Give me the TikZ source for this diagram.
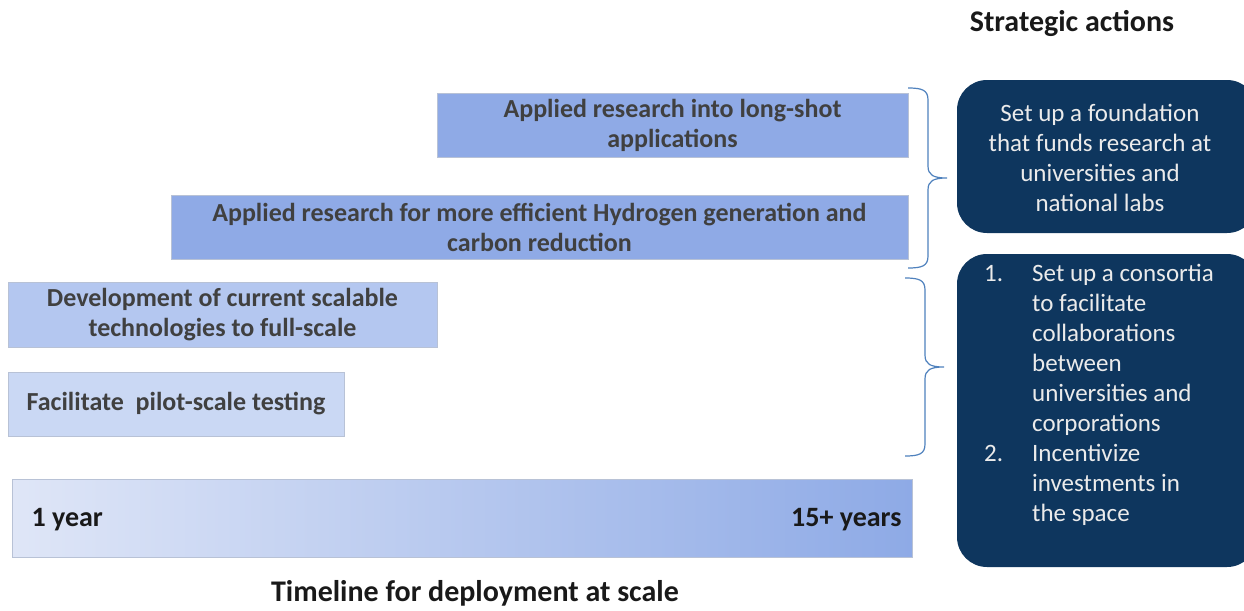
\documentclass[tikz,border=0pt]{standalone}
\usepackage{fontspec}
\setmainfont{Carlito}
\definecolor{barA}{HTML}{8FAAE6}
\definecolor{barC}{HTML}{B4C7F0}
\definecolor{barD}{HTML}{CAD8F4}
\definecolor{tlL}{HTML}{DFE6F7}
\definecolor{tlR}{HTML}{8EAAE6}
\definecolor{navy}{HTML}{0E365E}
\definecolor{brc}{HTML}{4F81BD}
\definecolor{txt}{HTML}{404040}
\definecolor{edge}{HTML}{B8C2D6}
\begin{document}
\begin{tikzpicture}[x=1pt,y=-1pt,
  bar/.style={draw=edge,line width=0.8pt,inner sep=0pt,align=center,text=txt,
    font=\fontsize{26}{30}\selectfont\bfseries},
  act/.style={fill=navy,rounded corners=30pt,inner sep=0pt},
  acttext/.style={text=white!92!black,font=\fontsize{25}{30}\selectfont},
  brace/.style={draw=brc,line width=1.2pt},
  yr/.style={text=black!90,font=\fontsize{28}{32}\selectfont\bfseries},
  head/.style={font=\fontsize{30}{34}\selectfont\bfseries,text=black!90}]
\useasboundingbox (0,0) rectangle (1244,610);
% bars
\node[bar,fill=barA,minimum width=471pt,minimum height=64pt] (a) at (672.5,125) {Applied research into long-shot\\applications};
\node[bar,fill=barA,minimum width=737pt,minimum height=64pt] (b) at (539.5,227) {Applied research for more efficient Hydrogen generation and\\carbon reduction};
\node[bar,fill=barC,minimum width=429pt,minimum height=65pt] (c) at (222.5,314.5) {Development of current scalable\\technologies to full-scale};
\node[bar,fill=barD,minimum width=336pt,minimum height=64pt] (d) at (176,404) {Facilitate\ \ pilot-scale testing};
% timeline
\node[draw=edge,line width=0.8pt,left color=tlL,right color=tlR,minimum width=900pt,minimum height=78pt,inner sep=0pt] (tl) at (462,518) {};
\node[yr,anchor=west] (y1) at (28,520) {1 year};
\node[yr,anchor=east] (y15) at (905,520) {15+ years};
\node[head] (tlt) at (475,593) {Timeline for deployment at scale};
% strategic
\node[head] (sa) at (1072,23) {Strategic actions};
\node[act,minimum width=300pt,minimum height=153pt] (s1) at (1107,156.5) {};
\node[acttext,align=center] (s1t) at (1100,158) {Set up a foundation\\that funds research at\\universities and\\national labs};
\node[act,minimum width=300pt,minimum height=313pt] (s2) at (1107,410.5) {};
\node[acttext,anchor=north west,inner sep=0pt] (s2t) at (984,260) {%
\begin{tabular}{@{}p{48pt}@{}l@{}}
1. & Set up a consortia\\
   & to facilitate\\
   & collaborations\\
   & between\\
   & universities and\\
   & corporations\\
2. & Incentivize\\
   & investments in\\
   & the space
\end{tabular}};
% braces
\coordinate (b1t) at (908,88);
\coordinate (b1m) at (947,178);
\coordinate (b1b) at (908,268);
\draw[brace] (b1t) .. controls (922,88) and (928,90) .. (928,100) -- (928,166)
  .. controls (928,175) and (933,178) .. (b1m)
  .. controls (933,178) and (928,181) .. (928,190) -- (928,256)
  .. controls (928,266) and (922,268) .. (b1b);
\coordinate (b2t) at (905,278);
\coordinate (b2m) at (944,367);
\coordinate (b2b) at (905,456);
\draw[brace] (b2t) .. controls (919,278) and (925,280) .. (925,290) -- (925,355)
  .. controls (925,364) and (930,367) .. (b2m)
  .. controls (930,367) and (925,370) .. (925,379) -- (925,444)
  .. controls (925,454) and (919,456) .. (b2b);
\end{tikzpicture}
\end{document}
